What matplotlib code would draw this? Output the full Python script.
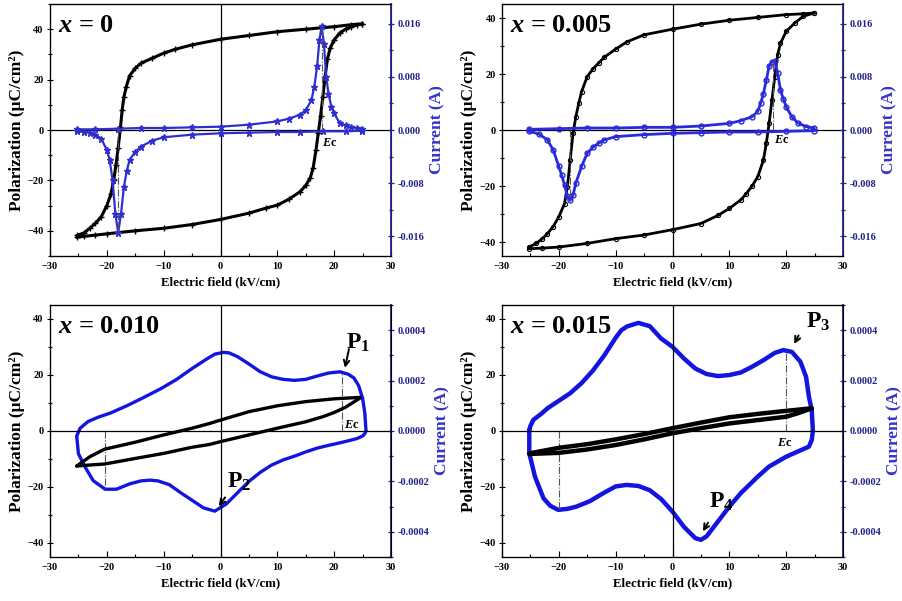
import matplotlib
matplotlib.use("Agg")
import matplotlib.pyplot as plt
from matplotlib.ticker import MultipleLocator, FormatStrFormatter

plt.rcParams['font.family'] = ['Liberation Serif', 'DejaVu Serif']
plt.rcParams['font.weight'] = 'bold'
plt.rcParams['mathtext.fontset'] = 'custom'
plt.rcParams['mathtext.it'] = 'Liberation Serif:italic:bold'
plt.rcParams['mathtext.rm'] = 'Liberation Serif:bold'
plt.rcParams['mathtext.bf'] = 'Liberation Serif:bold'

# ---------------- data ----------------
titles = ['0', '0.005', '0.010', '0.015']

# x = 0
E1_pd = [24.9, 23, 20, 15, 10, 5, 0, -5, -8, -10, -12, -14, -15, -16, -16.6, -17, -17.3, -17.6, -18, -18.4, -18.8, -19.3, -20, -21, -22, -23, -24, -25.2]
P1_pd = [42.1, 41.8, 41, 40, 39, 37.5, 36, 33.8, 32, 30.5, 28.5, 26.5, 24.5, 21.5, 17, 13, 8, 1, -7, -14, -20, -25.5, -30, -34.5, -37, -39, -40.8, -41.8]
E1_pa = [-25.2, -24, -22, -20, -15, -10, -5, 0, 5, 8, 10, 12, 14, 15, 15.8, 16.3, 16.8, 17.2, 17.6, 18, 18.4, 18.8, 19.3, 20, 21, 22, 23, 24, 24.9]
P1_pa = [-42.6, -42.2, -41.7, -41.2, -40, -39, -37.5, -35.5, -33, -31, -29.8, -27.5, -24.5, -22, -19, -15, -8, -1.3, 5.5, 13, 21, 28, 32.5, 35.8, 38.5, 40, 41, 41.7, 42.1]
E1_ip = [-25.2, -22, -18, -14, -10, -5, 0, 5, 10, 12, 14, 15, 16, 16.5, 17, 17.4, 17.8, 18.2, 18.6, 19, 19.5, 20, 21, 22, 23, 24, 24.9]
I1_ip = [0.0001, 0.0001, 0.0002, 0.0003, 0.0003, 0.0004, 0.0005, 0.0008, 0.0013, 0.0017, 0.0023, 0.003, 0.0045, 0.0065, 0.0096, 0.0135, 0.0157, 0.013, 0.008, 0.0055, 0.0035, 0.0025, 0.001, 0.0007, 0.0004, 0.0003, 0.0002]
E1_in = [24.9, 22, 18, 14, 10, 5, 0, -5, -10, -12, -14, -15, -16, -16.5, -17, -17.5, -18, -18.5, -19, -19.5, -20, -21, -22, -23, -24, -25.2]
I1_in = [-0.0001, -0.0002, -0.0002, -0.0003, -0.0003, -0.0004, -0.0005, -0.0007, -0.0011, -0.0016, -0.0025, -0.0033, -0.0045, -0.0062, -0.0086, -0.0126, -0.0155, -0.0126, -0.0075, -0.0045, -0.003, -0.0013, -0.0007, -0.0004, -0.0003, -0.0002]

# x = 0.005
E2_pd = [24.9, 23, 20, 15, 10, 5, 0, -5, -8, -10, -12, -13, -14, -15, -16, -16.5, -17, -17.5, -18, -18.5, -19, -20, -21, -22, -23, -24, -25.2]
P2_pd = [41.8, 41.5, 41.2, 40.2, 39.2, 37.8, 36, 34, 31.5, 28.9, 26, 23.9, 21.8, 19.1, 13.7, 9.5, 4.8, -1.2, -10.7, -20.3, -26.3, -31, -34.5, -37, -39, -40.5, -41.8]
E2_pa = [-25.2, -23, -20, -15, -10, -5, 0, 5, 8, 10, 12, 13, 14, 15, 16, 16.5, 17, 17.5, 18, 18.5, 19, 20, 21.5, 23, 24.9]
P2_pa = [-42.4, -42.2, -41.8, -40.5, -38.8, -37.5, -35.6, -33.4, -30.5, -28, -25, -22.7, -20, -16.7, -10.7, -4.8, 2.4, 10.7, 19.1, 26.9, 31, 35.2, 38.2, 40.6, 41.8]
E2_ip = [-25.2, -20, -15, -10, -5, 0, 5, 10, 12, 14, 15, 15.5, 16, 16.5, 17, 17.5, 18, 18.5, 19, 19.5, 20, 21, 22, 23.5, 24.9]
I2_ip = [0.0001, 0.0002, 0.0003, 0.0003, 0.0004, 0.0004, 0.0006, 0.001, 0.0014, 0.002, 0.0028, 0.004, 0.0055, 0.0075, 0.0096, 0.0103, 0.0104, 0.0086, 0.006, 0.0047, 0.0035, 0.002, 0.0011, 0.0005, 0.0003]
E2_in = [24.9, 20, 15, 10, 5, 0, -5, -10, -12, -13, -14, -15, -16, -17, -17.5, -18, -18.5, -19, -19.5, -20, -21, -22, -23.5, -25.2]
I2_in = [-0.0001, -0.0002, -0.0003, -0.0003, -0.0004, -0.0005, -0.0007, -0.001, -0.0015, -0.002, -0.0026, -0.0035, -0.0055, -0.008, -0.0098, -0.0106, -0.01, -0.0083, -0.0068, -0.0055, -0.003, -0.0015, -0.0006, -0.0002]

# x = 0.010
E3_pd = [24.5, 20, 15, 10, 5, 0, -1.9, -5, -10, -15, -20.4, -23, -25.3]
P3_pd = [12, 11.5, 10.5, 9, 6.9, 3.9, 2.7, 1, -1.4, -4, -6.5, -9.2, -12.5]
E3_pa = [-25.3, -22, -20.4, -15, -10, -5, -1.9, 0, 5, 10, 15, 18, 20, 22, 24.5]
P3_pa = [-12.5, -12, -11.8, -9.8, -8, -5.8, -4.8, -3.8, -1.4, 1, 3.3, 5.1, 6.6, 8.5, 11.7]
E3_ip = [-25.3, -24.7, -23.3, -21.5, -19.4, -16.5, -13.6, -10.5, -7.7, -5, -2.4, -1, 0.5, 1.5, 3, 5, 7, 9, 11, 13, 15, 17, 19, 21, 22.5, 23.5, 24.3, 25, 25.4, 25.6]
I3_ip = [-0.00002, 0.000011, 0.0000375, 0.000055, 0.000071, 0.0001, 0.000132, 0.000168, 0.000205, 0.000248, 0.000286, 0.000305, 0.000312, 0.00031, 0.000295, 0.000266, 0.000235, 0.000215, 0.000205, 0.000201, 0.000205, 0.000218, 0.00023, 0.000235, 0.000225, 0.00021, 0.00018, 0.00013, 0.00007, 0]
E3_in = [25.6, 25.4, 25, 24, 23, 21, 19, 17, 15, 13, 11, 9, 7, 5, 3, 1, -1, -3, -4.8, -7, -9, -11, -12.4, -14, -16, -18.3, -20.3, -22.4, -23.8, -25, -25.3]
I3_in = [0, -0.00001, -0.00002, -0.00003, -0.000036, -0.000047, -0.000057, -0.000068, -0.000083, -0.0001, -0.000115, -0.000135, -0.000164, -0.0002, -0.000245, -0.00029, -0.000318, -0.000305, -0.000278, -0.000245, -0.000213, -0.000198, -0.000195, -0.000198, -0.00021, -0.000231, -0.000231, -0.000197, -0.000144, -0.00009, -0.00002]

# x = 0.015
E4_pd = [24.5, 20, 15, 10, 5, 0, -5, -10, -15, -20, -25.2]
P4_pd = [8.1, 7.2, 6.1, 4.9, 3, 1, -1.1, -3, -4.7, -6, -8]
E4_pa = [-25.2, -20, -15, -10, -5, 0, 5, 10, 15, 20, 22, 24.5]
P4_pa = [-8.2, -7.8, -6.6, -5, -3, -0.8, 1, 2.7, 3.9, 5.1, 6.3, 8.1]
E4_ip = [-25.2, -25, -24.5, -23, -22, -20, -18, -16, -14, -12, -10, -9, -8, -6, -4, -2, 0, 2, 4, 6, 8, 10, 12, 14, 16, 18, 19.5, 21, 22.5, 23.5, 24, 24.5, 24.7]
I4_ip = [0.000004, 0.00002, 0.000044, 0.00007, 0.00009, 0.00012, 0.00015, 0.00019, 0.00024, 0.0003, 0.00037, 0.0004, 0.000415, 0.000429, 0.000416, 0.000367, 0.000334, 0.000288, 0.000248, 0.000226, 0.000218, 0.000222, 0.000232, 0.000255, 0.000281, 0.00031, 0.000321, 0.000314, 0.000275, 0.000215, 0.000136, 0.000083, 0]
E4_in = [24.7, 24.5, 24, 22, 20, 17, 15, 12, 10, 8, 6, 5, 4, 2, 0, -2, -4, -6, -8.1, -10, -12.2, -14.5, -16.9, -18.5, -20.1, -21.5, -22.7, -24.2, -25.2, -25.2]
I4_in = [0, -0.000036, -0.000062, -0.000082, -0.000102, -0.000141, -0.000181, -0.000247, -0.0003, -0.000359, -0.000418, -0.000432, -0.000425, -0.00038, -0.00032, -0.00027, -0.000235, -0.000218, -0.000214, -0.00022, -0.000247, -0.000278, -0.0003, -0.000309, -0.000313, -0.000297, -0.000267, -0.000181, -0.000088, 0.000004]

# Ec markers (field, current at that field)
Ec_right = [17.8, 17.6, 21.3, 20.0]
Ec_right_I = [0.0157, 0.0104, 0.000232, 0.000321]
Ec_left = [-18.0, -18.0, -20.3, -20.0]
Ec_left_I = [-0.0155, -0.0106, -0.000231, -0.000313]

# ---------------- figure ----------------
fig = plt.figure(figsize=(9.03, 6.01), dpi=100)
W, H = 903, 601
boxes = [(50, 4, 341, 252), (502, 4, 341, 252), (50, 305, 341, 252), (502, 305, 341, 252)]
ylims = [50, 45, 45, 45]
ilims = [0.019, 0.019, 0.0005, 0.0005]
imaj = [0.008, 0.008, 0.0002, 0.0002]
ifmt = ['%.3f', '%.3f', '%.4f', '%.4f']

black_data = [(E1_pd, P1_pd, E1_pa, P1_pa), (E2_pd, P2_pd, E2_pa, P2_pa),
              (E3_pd, P3_pd, E3_pa, P3_pa), (E4_pd, P4_pd, E4_pa, P4_pa)]
blue_data = [(E1_ip, I1_ip, E1_in, I1_in), (E2_ip, I2_ip, E2_in, I2_in),
             (E3_ip, I3_ip, E3_in, I3_in), (E4_ip, I4_ip, E4_in, I4_in)]

spine_blue = '#22228a'
label_blue = '#3535c8'
curve_blue = ['#2f2fd0', '#2a2ad8', '#1414e0', '#1414e0']

axs = []
for k in range(4):
    x0, y0, w, h = boxes[k]
    ax = fig.add_axes([x0 / W, 1 - (y0 + h) / H, w / W, h / H])
    tw = ax.twinx()
    axs.append(ax)

    ax.set_xlim(-30, 30)
    ax.set_ylim(-ylims[k], ylims[k])
    tw.set_ylim(-ilims[k], ilims[k])

    ax.axhline(0, color='black', lw=0.9, zorder=1)
    ax.axvline(0, color='black', lw=0.9, zorder=1)

    Ed, Pd, Ea, Pa = black_data[k]
    Ep, Ip, En, In = blue_data[k]
    if k == 0:
        for E, P in ((Ed, Pd), (Ea, Pa)):
            ax.plot(E, P, color='black', lw=2.2, marker='+', ms=4, mew=1)
        for E, I in ((Ep, Ip), (En, In)):
            tw.plot(E, I, color=curve_blue[k], lw=1.6, marker='*', ms=4.5)
    elif k == 1:
        for E, P in ((Ed, Pd), (Ea, Pa)):
            ax.plot(E, P, color='black', lw=2.0, marker='o', ms=3, mfc='none', mew=0.8)
        for E, I in ((Ep, Ip), (En, In)):
            tw.plot(E, I, color=curve_blue[k], lw=2.0, marker='o', ms=3.5, mfc='none', mew=1)
    else:
        for E, P in ((Ed, Pd), (Ea, Pa)):
            ax.plot(E, P, color='black', lw=3.2 if k == 3 else 2.4, solid_capstyle='round')
        for E, I in ((Ep, Ip), (En, In)):
            tw.plot(E, I, color=curve_blue[k], lw=3.2 if k == 3 else 2.4,
                    solid_capstyle='round', solid_joinstyle='round')
        ax.set_zorder(tw.get_zorder() + 1)
        ax.patch.set_visible(False)

    # Ec guide lines
    tw.plot([Ec_right[k], Ec_right[k]], [0, Ec_right_I[k]], color='#555555', lw=0.8, ls='-.')
    tw.plot([Ec_left[k], Ec_left[k]], [0, Ec_left_I[k]], color='#555555', lw=0.8, ls='-.')

    # ticks
    ax.xaxis.set_major_locator(MultipleLocator(10))
    ax.xaxis.set_minor_locator(MultipleLocator(5))
    ax.yaxis.set_major_locator(MultipleLocator(20))
    ax.yaxis.set_minor_locator(MultipleLocator(10))
    tw.yaxis.set_major_locator(MultipleLocator(imaj[k]))
    tw.yaxis.set_minor_locator(MultipleLocator(imaj[k] / 2))
    tw.yaxis.set_major_formatter(FormatStrFormatter(ifmt[k]))

    ax.tick_params(axis='x', which='both', direction='in', labelsize=7.5, pad=4)
    ax.tick_params(axis='x', which='major', length=4, width=0.8)
    ax.tick_params(axis='x', which='minor', length=2.5, width=0.8)
    ax.tick_params(axis='y', which='both', direction='inout', labelsize=7.5, pad=2)
    ax.tick_params(axis='y', which='major', length=5, width=0.8)
    ax.tick_params(axis='y', which='minor', length=3, width=0.8)
    tw.tick_params(axis='y', which='both', direction='inout', labelsize=7.5, pad=2,
                   colors=spine_blue, width=0.9)
    tw.tick_params(axis='y', which='major', length=5)
    tw.tick_params(axis='y', which='minor', length=3)
    tw.spines['right'].set_color(spine_blue)
    tw.spines['right'].set_linewidth(1.3)
    for s in ['left', 'top', 'bottom']:
        ax.spines[s].set_linewidth(0.9)

    ax.set_xlabel('Electric field (kV/cm)', fontsize=9.3, fontweight='bold', labelpad=4)
    ax.set_ylabel('Polarization (μC/cm²)', fontsize=12.5, fontweight='bold', labelpad=2)
    tw.set_ylabel('Current (A)', fontsize=12.5, fontweight='bold', color=label_blue, labelpad=4)

    ax.text(0.023, 0.915, r'$x$ = ' + titles[k], transform=ax.transAxes,
            fontsize=19, fontweight='bold', ha='left', va='center')

# Ec labels
ec_pos = [(19.3, -5.3), (19.2, -3.6), (23.1, 2.1), (19.7, -4.4)]
for k, ax in enumerate(axs):
    ax.text(ec_pos[k][0], ec_pos[k][1], r'$E$c', fontsize=9, ha='center', va='center', zorder=6)

ann = dict(arrowstyle='->', color='black', lw=1.4, mutation_scale=10)
axs[2].annotate('', xy=(21.8, 21.6), xytext=(22.7, 30.2), arrowprops=ann, zorder=7)
axs[2].text(24.2, 31.5, r'P$_\mathregular{1}$', fontsize=17, ha='center', va='center')
axs[2].annotate('', xy=(-0.6, -27.7), xytext=(1.1, -22.9), arrowprops=ann, zorder=7)
axs[2].text(3.3, -18.0, r'P$_\mathregular{2}$', fontsize=17, ha='center', va='center')
axs[3].annotate('', xy=(21.2, 30.2), xytext=(22.4, 35.0), arrowprops=ann, zorder=7)
axs[3].text(25.6, 39.0, r'P$_\mathregular{3}$', fontsize=17, ha='center', va='center')
axs[3].annotate('', xy=(5.1, -36.7), xytext=(6.5, -31.9), arrowprops=ann, zorder=7)
axs[3].text(8.6, -25.3, r'P$_\mathregular{4}$', fontsize=17, ha='center', va='center')

fig.savefig('out.png', dpi=100)
